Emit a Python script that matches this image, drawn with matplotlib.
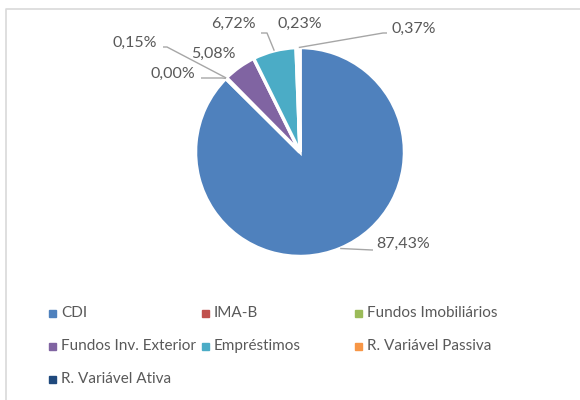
import matplotlib.pyplot as plt
import numpy as np
from matplotlib.patches import Rectangle

plt.rcParams['font.family'] = ['Lato', 'DejaVu Sans']

# dados
categorias = ['CDI', 'IMA-B', 'Fundos Imobiliários', 'Fundos Inv. Exterior',
              'Empréstimos', 'R. Variável Passiva', 'R. Variável Ativa']
valores = [87.43, 0.00, 0.15, 5.08, 6.72, 0.23, 0.37]
rotulos = ['87,43%', '0,00%', '0,15%', '5,08%', '6,72%', '0,23%', '0,37%']
cores = ['#4F81BD', '#C0504D', '#9BBB59', '#8064A2', '#4BACC6', '#F79646', '#1F497D']

W, H = 580, 400
fig = plt.figure(figsize=(W / 100, H / 100), dpi=100)
ax = fig.add_axes([0, 0, 1, 1])

cx, cy, r = 300, H - 152, 104.5
wedges, _ = ax.pie(valores, colors=cores, startangle=90, counterclock=False,
                   center=(cx, cy), radius=r, frame=True,
                   wedgeprops=dict(edgecolor='white', linewidth=2.5))
ax.set_xlim(0, W)
ax.set_ylim(0, H)
ax.set_aspect('equal')
ax.axis('off')

# posição dos rótulos (pixels) e cotovelo da linha de chamada
pos_rotulos = [(403, 244), (173, 74), (135, 43), (213, 54), (233, 24), (300, 24), (414, 29)]
cotovelo = [(372, 250), (222, 78), (167, 47), None, (267, 33), None, (383, 33)]
cor_txt = '#595959'

for w, txt, (tx, ty), cot in zip(wedges, rotulos, pos_rotulos, cotovelo):
    ang = np.deg2rad((w.theta1 + w.theta2) / 2)
    ex, ey = cx + r * np.cos(ang), cy + r * np.sin(ang)
    ax.text(tx, H - ty, txt, ha='center', va='center', fontsize=11.5, color=cor_txt)
    if cot is not None:
        sx = tx - 30 if tx > cx else tx + 28
        if txt == '0,37%':
            sx = tx - 27
        ax.plot([sx, cot[0], ex], [H - cot[1], H - cot[1], ey],
                color='#A6A6A6', lw=1, solid_capstyle='butt')

# legenda manual em 3 colunas
col_x = [49, 202, 355]
lin_y = [313, 346, 379]
for i, (nome, cor) in enumerate(zip(categorias, cores)):
    lx, ly = col_x[i % 3], lin_y[i // 3]
    ax.add_patch(Rectangle((lx, H - ly - 3.5), 6.5, 6.5, color=cor))
    ax.text(lx + 12, H - ly, nome, ha='left', va='center', fontsize=11, color=cor_txt)

# moldura do gráfico
ax.plot([5.5, 5.5, W + 5], [-5, H - 8.5, H - 8.5], color='#D9D9D9', lw=1.2)

fig.savefig('out.png', dpi=100)
